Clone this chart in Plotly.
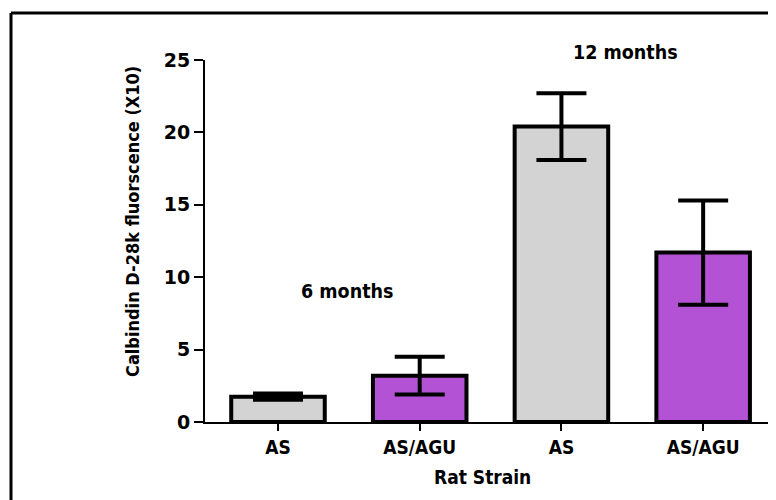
import plotly.graph_objects as go

categories = ["AS", "AS/AGU", "AS", "AS/AGU"]
means = [1.75, 3.2, 20.4, 11.7]
errors = [0.22, 1.3, 2.3, 3.6]
colors = ["#D3D3D3", "#B452D6", "#D3D3D3", "#B452D6"]
tick_vals = [0, 5, 10, 15, 20, 25]
group_labels = ["6 months", "12 months"]
y_title = "Calbindin D-28k fluorscence (X10)"
x_title = "Rat Strain"

FONT = "DejaVu Sans Condensed, DejaVu Sans, sans-serif"
FONT_WIDE = "DejaVu Sans, sans-serif"

# plot area in figure pixels (page has an 8px body margin)
L, T, W, H = 197, 52, 571, 362


def px_x(p):
    return (p - 8 - L) / W


def px_y(p):
    return (T + H - (p - 8)) / H


x_pos = list(range(len(categories)))

fig = go.Figure()
fig.add_trace(go.Bar(
    x=x_pos, y=means, width=0.66,
    marker=dict(color=colors, line=dict(color="black", width=4)),
    error_y=dict(type="data", array=errors, visible=True, color="black",
                 thickness=4, width=25),
    showlegend=False,
))

fig.add_annotation(x=px_x(347), y=px_y(291), xref="paper", yref="paper",
                   xanchor="center", yanchor="middle",
                   text="<b>%s</b>" % group_labels[0], showarrow=False,
                   font=dict(family=FONT, size=19.5, color="black"))
fig.add_annotation(x=px_x(625), y=px_y(52), xref="paper", yref="paper",
                   xanchor="center", yanchor="middle",
                   text="<b>%s</b>" % group_labels[1], showarrow=False,
                   font=dict(family=FONT, size=19.5, color="black"))
fig.add_annotation(x=px_x(132), y=px_y(222), xref="paper", yref="paper",
                   xanchor="center", yanchor="middle",
                   text="<b>%s</b>" % y_title, textangle=-90, showarrow=False,
                   font=dict(family=FONT, size=18, color="black"))
fig.add_annotation(x=px_x(482), y=px_y(477), xref="paper", yref="paper",
                   xanchor="center", yanchor="middle",
                   text="<b>%s</b>" % x_title, showarrow=False,
                   font=dict(family=FONT, size=19, color="black"))

# outer frame (top and left edges)
fig.add_shape(type="line", xref="paper", yref="paper", x0=px_x(11), x1=1.05,
              y0=px_y(13), y1=px_y(13), line=dict(color="black", width=3))
fig.add_shape(type="line", xref="paper", yref="paper", x0=px_x(11), x1=px_x(11),
              y0=px_y(13), y1=-0.3, line=dict(color="black", width=3))

fig.update_layout(
    width=768, height=492,
    margin=dict(l=L, r=768 - L - W, t=T, b=492 - T - H),
    paper_bgcolor="white", plot_bgcolor="white",
    font=dict(family=FONT, color="black"),
    xaxis=dict(
        range=[-0.515, 3.514], tickmode="array", tickvals=x_pos,
        ticktext=["<b>%s</b>" % c for c in categories],
        showline=True, linecolor="black", linewidth=2,
        ticks="outside", ticklen=7, tickwidth=2, tickcolor="black",
        tickfont=dict(family=FONT, size=19, color="black"),
        showgrid=False, zeroline=False,
    ),
    yaxis=dict(
        range=[0, 25], tickvals=tick_vals,
        ticktext=["<b>%d</b>" % v for v in tick_vals],
        showline=True, linecolor="black", linewidth=2,
        ticks="outside", ticklen=9, tickwidth=2, tickcolor="black",
        tickfont=dict(family=FONT_WIDE, size=19, color="black"),
        showgrid=False, zeroline=False,
    ),
)

fig.write_html("out.html")
